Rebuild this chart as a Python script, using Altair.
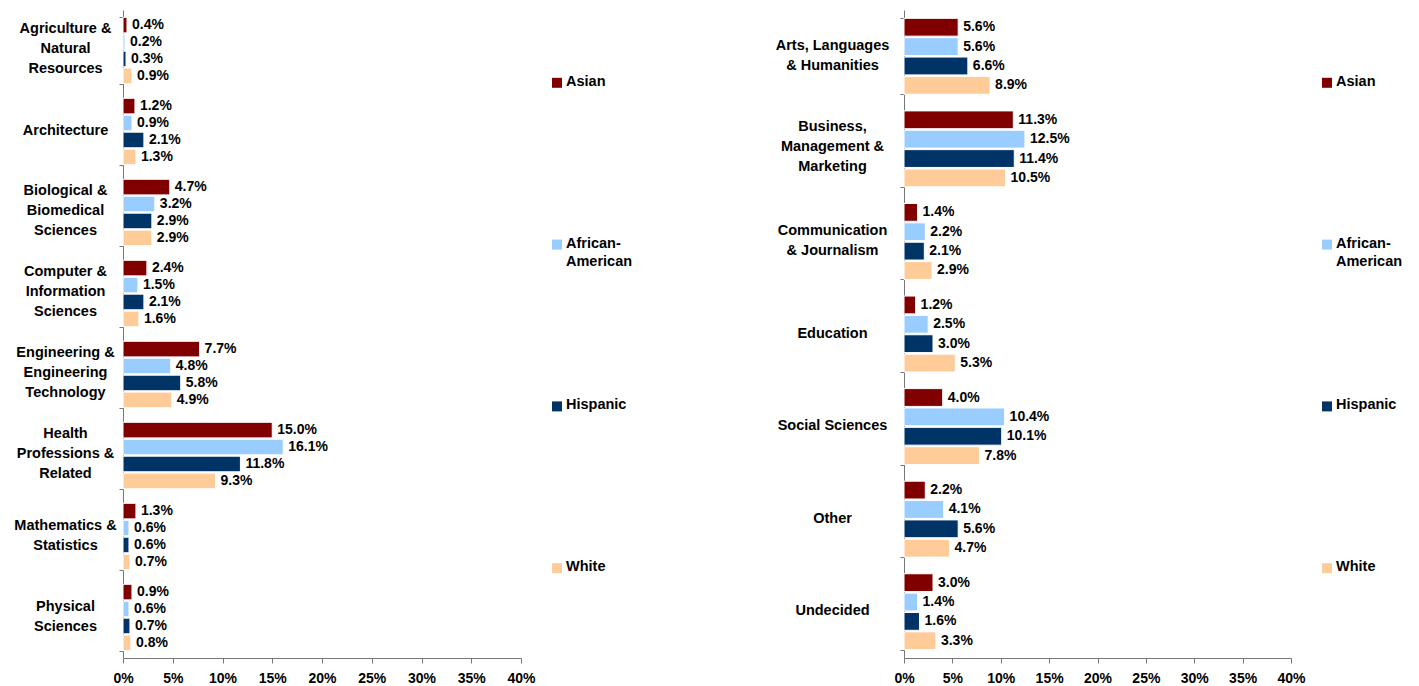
import altair as alt
import pandas as pd

FONT = "Liberation Sans"
SERIES = ["Asian", "African-American", "Hispanic", "White"]
LEGEND_TEXT = ["Asian", "African-\nAmerican", "Hispanic", "White"]
COLORS = ["#800000", "#99CCFF", "#003366", "#FFCC99"]
AXIS_GRAY = "#777777"

# Left panel: fields of study ("|" marks a line break in the axis label)
left_fields = [
    "Agriculture &|Natural|Resources",
    "Architecture",
    "Biological &|Biomedical|Sciences",
    "Computer &|Information|Sciences",
    "Engineering &|Engineering|Technology",
    "Health|Professions &|Related",
    "Mathematics &|Statistics",
    "Physical|Sciences",
]
left_asian = [0.4, 1.2, 4.7, 2.4, 7.7, 15.0, 1.3, 0.9]
left_african_american = [0.2, 0.9, 3.2, 1.5, 4.8, 16.1, 0.6, 0.6]
left_hispanic = [0.3, 2.1, 2.9, 2.1, 5.8, 11.8, 0.6, 0.7]
left_white = [0.9, 1.3, 2.9, 1.6, 4.9, 9.3, 0.7, 0.8]

# Right panel
right_fields = [
    "Arts, Languages|& Humanities",
    "Business,|Management &|Marketing",
    "Communication|& Journalism",
    "Education",
    "Social Sciences",
    "Other",
    "Undecided",
]
right_asian = [5.6, 11.3, 1.4, 1.2, 4.0, 2.2, 3.0]
right_african_american = [5.6, 12.5, 2.2, 2.5, 10.4, 4.1, 1.4]
right_hispanic = [6.6, 11.4, 2.1, 3.0, 10.1, 5.6, 1.6]
right_white = [8.9, 10.5, 2.9, 5.3, 7.8, 4.7, 3.3]

x_ticks = [0, 5, 10, 15, 20, 25, 30, 35, 40]

LINE_H = 20
N_LINES = "length(split(datum.label, '|'))"


def long_table(fields, *series_values):
    rows = []
    for name, values in zip(SERIES, series_values):
        for field, v in zip(fields, values):
            rows.append({"field": field, "series": name, "pct": v})
    return pd.DataFrame(rows)


color_enc = alt.Color(
    "series:N", sort=SERIES,
    scale=alt.Scale(domain=SERIES, range=COLORS), legend=None,
)

# shift wrapped axis labels up so the block is centred on its band
label_shift = {
    "condition": [
        {"test": f"{N_LINES} == 3", "value": -LINE_H - 2},
        {"test": f"{N_LINES} == 2", "value": -LINE_H / 2 - 1},
    ],
    "value": -1,
}


def panel(df, fields, plot_w, extent, label_pad):
    y_axis = alt.Axis(
        title=None,
        labelExpr="split(datum.label, '|')",
        labelAlign="center",
        labelBaseline="middle",
        labelPadding=label_pad,
        labelLineHeight=LINE_H,
        labelOffset=label_shift,
        labelFont=FONT, labelFontSize=14.5, labelFontWeight="bold", labelColor="#000",
        tickBand="extent", tickSize=4, tickColor=AXIS_GRAY,
        domainColor=AXIS_GRAY, minExtent=extent, maxExtent=extent,
    )
    y = alt.Y("field:N", sort=fields,
              scale=alt.Scale(paddingInner=0.18, paddingOuter=0.09), axis=y_axis)
    y_plain = alt.Y("field:N", sort=fields)
    y_off = alt.YOffset("series:N", sort=SERIES, scale=alt.Scale(paddingInner=0.08))
    x = alt.X(
        "pct:Q",
        scale=alt.Scale(domain=[0, 40], nice=False),
        axis=alt.Axis(
            title=None, values=x_ticks, grid=False, labelFlush=False,
            labelExpr="datum.value + '%'", labelPadding=8,
            labelFont=FONT, labelFontSize=14, labelFontWeight="bold", labelColor="#000",
            tickSize=5, tickColor=AXIS_GRAY, domainColor=AXIS_GRAY,
        ),
    )
    bars = alt.Chart(df).mark_bar().encode(x=x, y=y, yOffset=y_off, color=color_enc)
    labels = alt.Chart(df).transform_calculate(
        lab="format(datum.pct, '.1f') + '%'"
    ).mark_text(
        align="left", baseline="middle", dx=5,
        font=FONT, fontSize=14, fontWeight="bold", color="#000",
    ).encode(x="pct:Q", y=y_plain, yOffset=y_off, text="lab:N")
    return alt.layer(bars, labels).properties(width=plot_w, height=648)


def legend_panel(width):
    leg = pd.DataFrame({"series": SERIES, "label": LEGEND_TEXT})
    y = alt.Y("series:N", sort=SERIES,
              scale=alt.Scale(type="point", padding=0.45), axis=None)
    sym = alt.Chart(leg).mark_square(size=100, opacity=1).encode(
        x=alt.value(21), y=y, color=color_enc)
    txt = alt.Chart(leg).mark_text(
        align="left", baseline="top", dx=0, dy=-8, lineBreak="\n", lineHeight=18,
        font=FONT, fontSize=14.5, fontWeight="bold", color="#000",
    ).encode(x=alt.value(30), y=y, text="label:N")
    return alt.layer(sym, txt).properties(width=width, height=631)


left = panel(long_table(left_fields, left_asian, left_african_american,
                        left_hispanic, left_white),
             left_fields, 398, 123, 54)
right = panel(long_table(right_fields, right_asian, right_african_american,
                         right_hispanic, right_white),
              right_fields, 387, 258, 68)

chart = alt.hconcat(
    left, legend_panel(110), right, legend_panel(110), spacing=0,
).resolve_scale(y="independent", yOffset="independent").properties(
    padding={"left": 0, "top": 2, "right": 0, "bottom": 0},
).configure_view(stroke=None).configure_bar(stroke="white", strokeWidth=1)

chart.save("out.html", embed_options={"renderer": "svg", "actions": False})
